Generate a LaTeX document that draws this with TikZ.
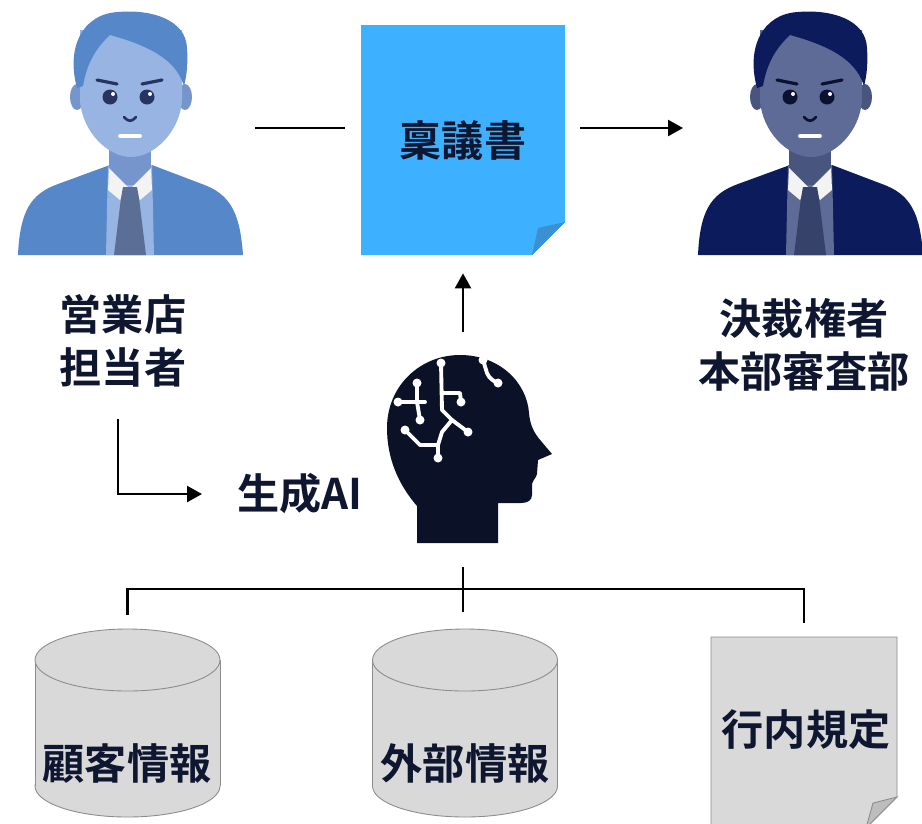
\documentclass[tikz,border=0pt]{standalone}
\usepackage{fontspec}
\setmainfont{Noto Sans CJK JP}[BoldFont={Noto Sans CJK JP Bold}]
\usetikzlibrary{arrows.meta}

\definecolor{ink}{HTML}{0E1630}
\definecolor{ringiblue}{HTML}{3DB1FF}
\definecolor{ringifold}{HTML}{3A90D2}
\definecolor{paper}{HTML}{D9D9D9}
\definecolor{paperfold}{HTML}{BDBDBD}
\definecolor{rim}{HTML}{8C8C8C}
\definecolor{aihead}{HTML}{0B1126}
\definecolor{collar}{HTML}{F3F3F3}
% staff (light blue) and HQ (navy)
\definecolor{suitA}{HTML}{5687C9}
\definecolor{faceA}{HTML}{97B4E3}
\definecolor{shadeA}{HTML}{7595CC}
\definecolor{tieA}{HTML}{5A6E96}
\definecolor{eyeA}{HTML}{27345F}
\definecolor{suitB}{HTML}{0C1B5B}
\definecolor{faceB}{HTML}{5E6B97}
\definecolor{shadeB}{HTML}{48557F}
\definecolor{tieB}{HTML}{36426A}
\definecolor{eyeB}{HTML}{0B1130}

\tikzset{
  line/.style={line width=1.5pt},
  arrow/.style={line, -{Triangle[length=8.5pt,width=9pt]}},
  label/.style={font=\bfseries\fontsize{24}{30.5}\selectfont, text=ink, align=center, inner sep=0pt},
  iconbox/.style={inner sep=0pt, outer sep=0pt},
  circuit/.style={white, line width=2.2pt, line cap=round, line join=round},
  pics/person/.style n args={5}{code={
    % suit
    \fill[#1] (-112,255) .. controls (-110,212) and (-100,194) .. (-72,184) -- (-20,165) -- (22,165) -- (72,184) .. controls (100,194) and (110,212) .. (113,255) -- cycle;
    % shirt and neck
    \fill[#2] (-22,165) -- (22,165) -- (24,255) -- (-24,255) -- cycle;
    \fill[#3] (-21,135) rectangle (21,185);
    \fill[collar] (-21,168) -- (-2,187) -- (-10,200) -- (-22,190) -- cycle;
    \fill[collar] (21,168) -- (2,187) -- (10,200) -- (22,190) -- cycle;
    \fill[#4] (-7,187) -- (7,187) -- (9,198) -- (16,255) -- (-16,255) -- (-9,198) -- cycle;
    % head
    \fill[#3] (-53,97) ellipse [x radius=7, y radius=13];
    \fill[#3] (55,97) ellipse [x radius=7, y radius=13];
    \fill[#2] (-50,30) -- (-50,100) .. controls (-48,132) and (-22,157) .. (1,157) .. controls (24,157) and (50,132) .. (52,100) -- (52,30) -- cycle;
    \fill[#1] (-53,88) .. controls (-64,48) and (-48,14) .. (-12,12) .. controls (22,9) and (56,20) .. (57,48)
      .. controls (58,62) and (57,75) .. (54,86) .. controls (47,64) and (28,48) .. (-20,35)
      .. controls (-33,47) and (-43,62) .. (-47,86) -- cycle;
    % face details
    \draw[#5, line width=1.8pt, line cap=round] (-33,80) -- (-13,84) (12,84) -- (32,80);
    \fill[#5] (-20,97) circle [radius=7.5] (17,97) circle [radius=7.5];
    \fill[white] (-17,94) circle [radius=2] (20,94) circle [radius=2];
    \draw[#5, line width=1.5pt, line cap=round] (-6,117) .. controls (-2,122) and (2,122) .. (6,117);
    \draw[white, line width=2.2pt, line cap=round] (-10,136) -- (10,136);
  }},
  pics/drum/.style={code={
    \filldraw[fill=paper, draw=rim, line width=0.5pt] (0,126) ellipse [x radius=92.5, y radius=31];
    \fill[paper] (-92.5,0) rectangle (92.5,126);
    \draw[rim, line width=0.5pt] (-92.5,0) -- (-92.5,126) (92.5,0) -- (92.5,126);
    \filldraw[fill=paper, draw=rim, line width=0.5pt] (0,0) ellipse [x radius=92.5, y radius=31];
  }}
}

\begin{document}
\begin{tikzpicture}[x=0.02cm, y=-0.02cm]
  \useasboundingbox (0,0) rectangle (922,823);

  % people
  \pic at (130,0) {person={suitA}{faceA}{shadeA}{tieA}{eyeA}};
  \pic at (810,0) {person={suitB}{faceB}{shadeB}{tieB}{eyeB}};
  \node[iconbox, minimum width=4.52cm, minimum height=5cm] (tanto) at (130,128) {};
  \node[iconbox, minimum width=4.52cm, minimum height=5cm] (kessai) at (810,128) {};
  \node[label] (eigyo) at (123,341) {営業店\\担当者};
  \node[label] (honbu) at (804,345) {決裁権者\\本部審査部};

  % ringi document
  \fill[ringiblue] (361,25) -- (565,25) -- (565,222) -- (532,255) -- (361,255) -- cycle;
  \fill[ringifold] (565,222) -- (532,255) -- (538,228) -- cycle;
  \node[label, minimum width=4.08cm, minimum height=4.6cm] (ringi) at (463,140) {稟議書};

  % AI head
  \fill[aihead] (417,543) -- (417,506) .. controls (398,484) and (387,458) .. (387,428)
    .. controls (387,386) and (420,355) .. (460,355) .. controls (500,355) and (527,383) .. (529,413)
    .. controls (530,425) and (534,433) .. (541,441) -- (552,454) -- (538,460) -- (537,474)
    .. controls (536,478) and (533,480) .. (532,484) -- (532,495) .. controls (532,500) and (528,503) .. (521,503)
    -- (498,503) -- (498,543) -- cycle;
  \draw[circuit] (441,363) -- (442,410) -- (452,420) -- (468,432);
  \draw[circuit] (442,393) -- (460,393) -- (461,402);
  \draw[circuit] (452,420) -- (442,432) -- (438,445) -- (438,458);
  \draw[circuit] (405,430) -- (420,445) -- (438,445);
  \draw[circuit] (398,402) -- (425,402);
  \draw[circuit] (417,383) -- (417,402) -- (420,420);
  \draw[circuit] (483,360) -- (487,373) .. controls (489,378) and (493,381) .. (498,383);
  \foreach \p in {(441,363),(461,402),(468,432),(438,458),(405,430),(398,402),(417,383),(420,420),(483,360),(498,383)}
    \fill[white] \p circle [radius=4.5];
  \node[iconbox, minimum width=3.56cm, minimum height=3.76cm] (ai) at (463,449) {};
  \node[label] (genai) at (300,494) {生成AI};

  % sources
  \pic at (127.5,660) {drum};
  \pic at (465,660) {drum};
  \node[iconbox, minimum width=3.7cm, minimum height=3.8cm] (db1) at (127.5,722.5) {};
  \node[iconbox, minimum width=3.7cm, minimum height=3.8cm] (db2) at (465,722.5) {};
  \node[label] at (127,763) {顧客情報};
  \node[label] at (465,763) {外部情報};
  \filldraw[fill=paper, draw=rim, line width=0.5pt] (711,637) -- (897,637) -- (897,797) -- (866,828) -- (711,828) -- cycle;
  \filldraw[fill=paperfold, draw=rim, line width=0.5pt] (897,797) -- (866,828) -- (873,803) -- cycle;
  \node[iconbox, minimum width=3.72cm, minimum height=3.72cm] (kitei) at (804,730) {};
  \node[label] at (806,730) {行内規定};

  % flow
  \draw[line, shorten <=0.24cm, shorten >=0.32cm] (tanto.east) -- (tanto.east -| ringi.west);
  \draw[arrow, shorten <=0.3cm, shorten >=0.28cm] (ringi.east |- kessai.west) -- (kessai.west);
  \draw[arrow, shorten <=0.46cm, shorten >=0.36cm] (ai.north) -- (ringi.south);
  \draw[arrow, shorten <=0.62cm, shorten >=0.7cm] ([xshift=-0.1cm]eigyo.south) |- (genai.west);
  \coordinate (bus) at (465,589);
  \draw[line, shorten <=0.48cm, shorten >=0.32cm] (ai.south) -- (ai.south |- db2.north);
  \draw[line, shorten <=0.26cm, shorten >=0.28cm] (db1.north) |- (bus) -| (kitei.north);
\end{tikzpicture}
\end{document}
